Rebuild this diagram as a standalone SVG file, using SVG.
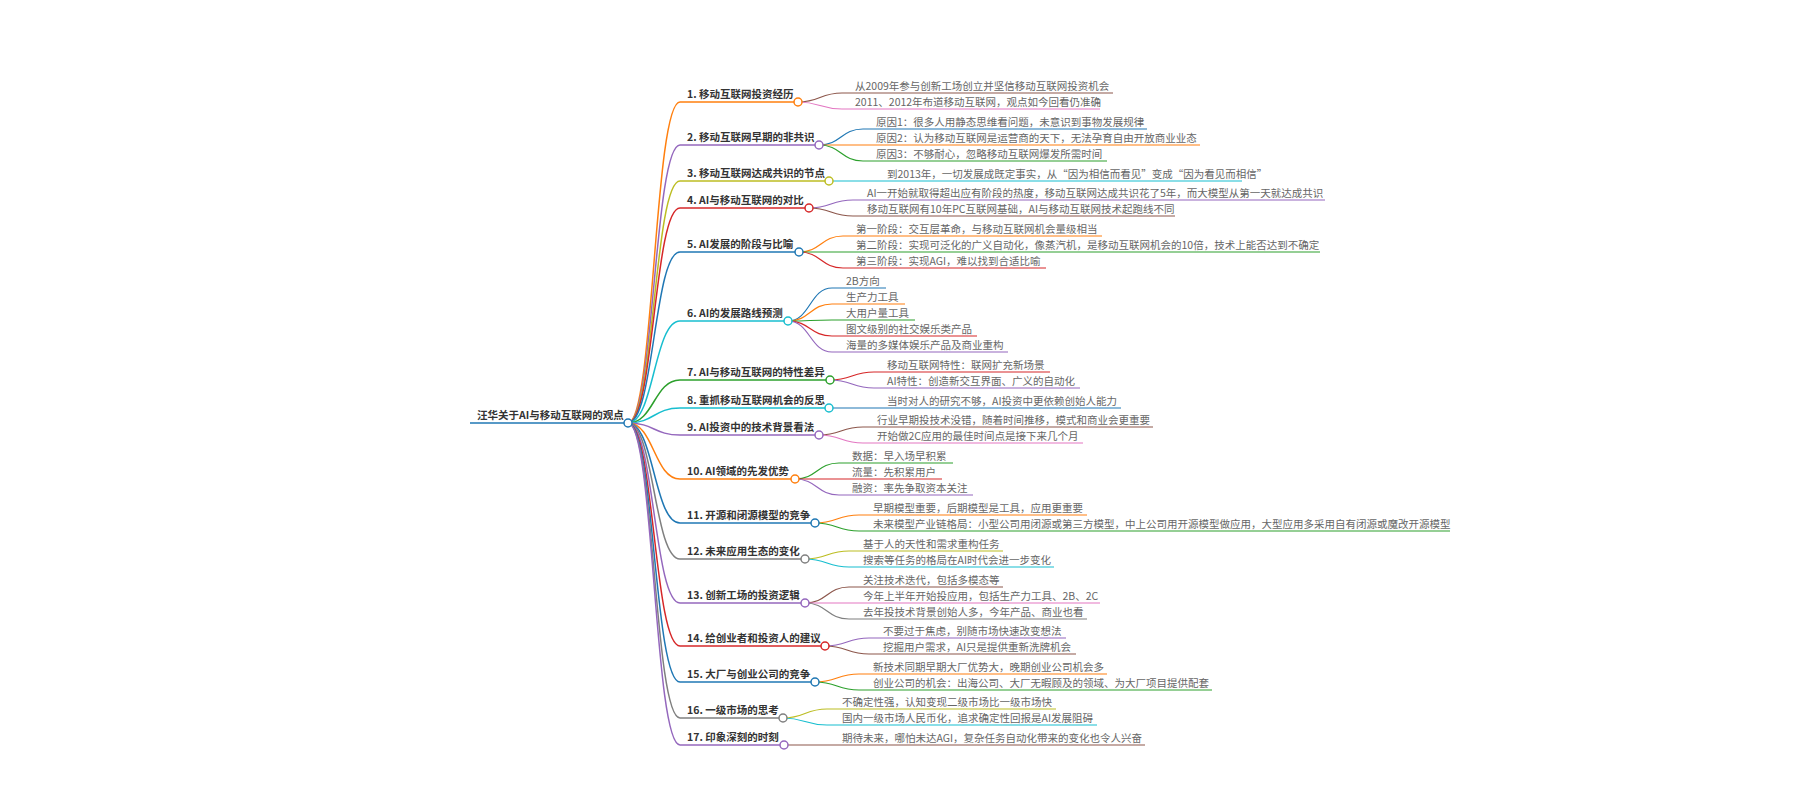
<svg xmlns="http://www.w3.org/2000/svg" width="1800" height="800" viewBox="0 0 1800 800">
<style>
text{font-family:"Noto Sans CJK SC","Noto Sans",sans-serif;font-size:10.5px}
.r,.b{font-weight:700;fill:#333}
.l{fill:#666}
path,line{fill:none}
.k1{stroke-width:1.5}
.k2{stroke-width:1.2}
circle{fill:#fff;stroke-width:1.5}
</style>
<rect width="1800" height="800" fill="#fff"/>
<g id="connectors">
<path class="k1" stroke="#ff7f0e" d="M628,423 C654,423 654,102 680,102"/>
<path class="k1" stroke="#9467bd" d="M628,423 C654,423 654,145 680,145"/>
<path class="k1" stroke="#bcbd22" d="M628,423 C654,423 654,181 680,181"/>
<path class="k1" stroke="#d62728" d="M628,423 C654,423 654,208 680,208"/>
<path class="k1" stroke="#1f77b4" d="M628,423 C654,423 654,252 680,252"/>
<path class="k1" stroke="#17becf" d="M628,423 C654,423 654,321 680,321"/>
<path class="k1" stroke="#2ca02c" d="M628,423 C654,423 654,380 680,380"/>
<path class="k1" stroke="#17becf" d="M628,423 C654,423 654,408 680,408"/>
<path class="k1" stroke="#9467bd" d="M628,423 C654,423 654,435 680,435"/>
<path class="k1" stroke="#ff7f0e" d="M628,423 C654,423 654,479 680,479"/>
<path class="k1" stroke="#1f77b4" d="M628,423 C654,423 654,523 680,523"/>
<path class="k1" stroke="#7f7f7f" d="M628,423 C654,423 654,559 680,559"/>
<path class="k1" stroke="#9467bd" d="M628,423 C654,423 654,603 680,603"/>
<path class="k1" stroke="#d62728" d="M628,423 C654,423 654,646 680,646"/>
<path class="k1" stroke="#1f77b4" d="M628,423 C654,423 654,682 680,682"/>
<path class="k1" stroke="#7f7f7f" d="M628,423 C654,423 654,718 680,718"/>
<path class="k1" stroke="#9467bd" d="M628,423 C654,423 654,745 680,745"/>
<!-- leaf links -->
<path class="k2" stroke="#8c564b" d="M798,102 C820,102 820,93 842,93"/>
<path class="k2" stroke="#e377c2" d="M798,102 C820,102 820,109 842,109"/>
<path class="k2" stroke="#1f77b4" d="M819,145 C841,145 841,129 863,129"/>
<path class="k2" stroke="#ff7f0e" d="M819,145 C841,145 841,145 863,145"/>
<path class="k2" stroke="#2ca02c" d="M819,145 C841,145 841,161 863,161"/>
<path class="k2" stroke="#17becf" d="M829,181 C851,181 851,181 873,181"/>
<path class="k2" stroke="#9467bd" d="M809,208 C831,208 831,200 853,200"/>
<path class="k2" stroke="#8c564b" d="M809,208 C831,208 831,216 853,216"/>
<path class="k2" stroke="#ff7f0e" d="M799,252 C821,252 821,236 843,236"/>
<path class="k2" stroke="#2ca02c" d="M799,252 C821,252 821,252 843,252"/>
<path class="k2" stroke="#d62728" d="M799,252 C821,252 821,268 843,268"/>
<path class="k2" stroke="#1f77b4" d="M788,321 C810,321 810,288 832,288"/>
<path class="k2" stroke="#ff7f0e" d="M788,321 C810,321 810,304 832,304"/>
<path class="k2" stroke="#2ca02c" d="M788,321 C810,321 810,320 832,320"/>
<path class="k2" stroke="#d62728" d="M788,321 C810,321 810,336 832,336"/>
<path class="k2" stroke="#9467bd" d="M788,321 C810,321 810,352 832,352"/>
<path class="k2" stroke="#d62728" d="M830,380 C852,380 852,372 874,372"/>
<path class="k2" stroke="#9467bd" d="M830,380 C852,380 852,388 874,388"/>
<path class="k2" stroke="#1f77b4" d="M829,408 C851,408 851,408 873,408"/>
<path class="k2" stroke="#8c564b" d="M819,435 C841,435 841,427 863,427"/>
<path class="k2" stroke="#e377c2" d="M819,435 C841,435 841,443 863,443"/>
<path class="k2" stroke="#2ca02c" d="M795,479 C817,479 817,463 839,463"/>
<path class="k2" stroke="#d62728" d="M795,479 C817,479 817,479 839,479"/>
<path class="k2" stroke="#9467bd" d="M795,479 C817,479 817,495 839,495"/>
<path class="k2" stroke="#ff7f0e" d="M815,523 C837,523 837,515 859,515"/>
<path class="k2" stroke="#2ca02c" d="M815,523 C837,523 837,531 859,531"/>
<path class="k2" stroke="#bcbd22" d="M805,559 C827,559 827,551 849,551"/>
<path class="k2" stroke="#17becf" d="M805,559 C827,559 827,567 849,567"/>
<path class="k2" stroke="#8c564b" d="M805,603 C827,603 827,587 849,587"/>
<path class="k2" stroke="#e377c2" d="M805,603 C827,603 827,603 849,603"/>
<path class="k2" stroke="#7f7f7f" d="M805,603 C827,603 827,619 849,619"/>
<path class="k2" stroke="#9467bd" d="M825,646 C847,646 847,638 869,638"/>
<path class="k2" stroke="#8c564b" d="M825,646 C847,646 847,654 869,654"/>
<path class="k2" stroke="#ff7f0e" d="M815,682 C837,682 837,674 859,674"/>
<path class="k2" stroke="#2ca02c" d="M815,682 C837,682 837,690 859,690"/>
<path class="k2" stroke="#bcbd22" d="M783,718 C805,718 805,709 827,709"/>
<path class="k2" stroke="#17becf" d="M783,718 C805,718 805,725 827,725"/>
<path class="k2" stroke="#8c564b" d="M784,745 C806,745 806,745 828,745"/>
</g>

<g id="root">
<line class="k1" stroke="#1f77b4" x1="470" y1="423" x2="628" y2="423"/>
<text class="r" x="477" y="419">汪华关于AI与移动互联网的观点</text>
<circle cx="628" cy="423" r="4" stroke="#1f77b4"/>
</g>

<g id="b1">
<line class="k1" stroke="#ff7f0e" x1="680" y1="102" x2="798" y2="102"/>
<text class="b" x="687" y="98">1. 移动互联网投资经历</text>
<circle cx="798" cy="102" r="4" stroke="#ff7f0e"/>
</g>
<g id="b1-1"><line class="k2" stroke="#8c564b" x1="842" y1="93" x2="1113" y2="93"/><text class="l" x="855" y="90">从2009年参与创新工场创立并坚信移动互联网投资机会</text></g>
<g id="b1-2"><line class="k2" stroke="#e377c2" x1="842" y1="109" x2="1100" y2="109"/><text class="l" x="855" y="106">2011、2012年布道移动互联网，观点如今回看仍准确</text></g>

<g id="b2">
<line class="k1" stroke="#9467bd" x1="680" y1="145" x2="819" y2="145"/>
<text class="b" x="687" y="141">2. 移动互联网早期的非共识</text>
<circle cx="819" cy="145" r="4" stroke="#9467bd"/>
</g>
<g id="b2-1"><line class="k2" stroke="#1f77b4" x1="863" y1="129" x2="1147" y2="129"/><text class="l" x="876" y="126">原因1：很多人用静态思维看问题，未意识到事物发展规律</text></g>
<g id="b2-2"><line class="k2" stroke="#ff7f0e" x1="863" y1="145" x2="1200" y2="145"/><text class="l" x="876" y="142">原因2：认为移动互联网是运营商的天下，无法孕育自由开放商业业态</text></g>
<g id="b2-3"><line class="k2" stroke="#2ca02c" x1="863" y1="161" x2="1107" y2="161"/><text class="l" x="876" y="158">原因3：不够耐心，忽略移动互联网爆发所需时间</text></g>

<g id="b3">
<line class="k1" stroke="#bcbd22" x1="680" y1="181" x2="829" y2="181"/>
<text class="b" x="687" y="177">3. 移动互联网达成共识的节点</text>
<circle cx="829" cy="181" r="4" stroke="#bcbd22"/>
</g>
<g id="b3-1"><line class="k2" stroke="#17becf" x1="873" y1="181" x2="1242" y2="181"/><text class="l" x="887" y="178">到2013年，一切发展成既定事实，从“因为相信而看见”变成“因为看见而相信”</text></g>

<g id="b4">
<line class="k1" stroke="#d62728" x1="680" y1="208" x2="809" y2="208"/>
<text class="b" x="687" y="204">4. AI与移动互联网的对比</text>
<circle cx="809" cy="208" r="4" stroke="#d62728"/>
</g>
<g id="b4-1"><line class="k2" stroke="#9467bd" x1="853" y1="200" x2="1325" y2="200"/><text class="l" x="867" y="197">AI一开始就取得超出应有阶段的热度，移动互联网达成共识花了5年，而大模型从第一天就达成共识</text></g>
<g id="b4-2"><line class="k2" stroke="#8c564b" x1="853" y1="216" x2="1175" y2="216"/><text class="l" x="867" y="213">移动互联网有10年PC互联网基础，AI与移动互联网技术起跑线不同</text></g>

<g id="b5">
<line class="k1" stroke="#1f77b4" x1="680" y1="252" x2="799" y2="252"/>
<text class="b" x="687" y="248">5. AI发展的阶段与比喻</text>
<circle cx="799" cy="252" r="4" stroke="#1f77b4"/>
</g>
<g id="b5-1"><line class="k2" stroke="#ff7f0e" x1="843" y1="236" x2="1102" y2="236"/><text class="l" x="856" y="233">第一阶段：交互层革命，与移动互联网机会量级相当</text></g>
<g id="b5-2"><line class="k2" stroke="#2ca02c" x1="843" y1="252" x2="1320" y2="252"/><text class="l" x="856" y="249">第二阶段：实现可泛化的广义自动化，像蒸汽机，是移动互联网机会的10倍，技术上能否达到不确定</text></g>
<g id="b5-3"><line class="k2" stroke="#d62728" x1="843" y1="268" x2="1046" y2="268"/><text class="l" x="856" y="265">第三阶段：实现AGI，难以找到合适比喻</text></g>

<g id="b6">
<line class="k1" stroke="#17becf" x1="680" y1="321" x2="788" y2="321"/>
<text class="b" x="687" y="317">6. AI的发展路线预测</text>
<circle cx="788" cy="321" r="4" stroke="#17becf"/>
</g>
<g id="b6-1"><line class="k2" stroke="#1f77b4" x1="832" y1="288" x2="886" y2="288"/><text class="l" x="846" y="285">2B方向</text></g>
<g id="b6-2"><line class="k2" stroke="#ff7f0e" x1="832" y1="304" x2="905" y2="304"/><text class="l" x="846" y="301">生产力工具</text></g>
<g id="b6-3"><line class="k2" stroke="#2ca02c" x1="832" y1="320" x2="915" y2="320"/><text class="l" x="846" y="317">大用户量工具</text></g>
<g id="b6-4"><line class="k2" stroke="#d62728" x1="832" y1="336" x2="977" y2="336"/><text class="l" x="846" y="333">图文级别的社交娱乐类产品</text></g>
<g id="b6-5"><line class="k2" stroke="#9467bd" x1="832" y1="352" x2="1008" y2="352"/><text class="l" x="846" y="349">海量的多媒体娱乐产品及商业重构</text></g>

<g id="b7">
<line class="k1" stroke="#2ca02c" x1="680" y1="380" x2="830" y2="380"/>
<text class="b" x="687" y="376">7. AI与移动互联网的特性差异</text>
<circle cx="830" cy="380" r="4" stroke="#2ca02c"/>
</g>
<g id="b7-1"><line class="k2" stroke="#d62728" x1="874" y1="372" x2="1050" y2="372"/><text class="l" x="887" y="369">移动互联网特性：联网扩充新场景</text></g>
<g id="b7-2"><line class="k2" stroke="#9467bd" x1="874" y1="388" x2="1080" y2="388"/><text class="l" x="887" y="385">AI特性：创造新交互界面、广义的自动化</text></g>

<g id="b8">
<line class="k1" stroke="#17becf" x1="680" y1="408" x2="829" y2="408"/>
<text class="b" x="687" y="404">8. 重抓移动互联网机会的反思</text>
<circle cx="829" cy="408" r="4" stroke="#17becf"/>
</g>
<g id="b8-1"><line class="k2" stroke="#1f77b4" x1="873" y1="408" x2="1121" y2="408"/><text class="l" x="887" y="405">当时对人的研究不够，AI投资中更依赖创始人能力</text></g>

<g id="b9">
<line class="k1" stroke="#9467bd" x1="680" y1="435" x2="819" y2="435"/>
<text class="b" x="687" y="431">9. AI投资中的技术背景看法</text>
<circle cx="819" cy="435" r="4" stroke="#9467bd"/>
</g>
<g id="b9-1"><line class="k2" stroke="#8c564b" x1="863" y1="427" x2="1153" y2="427"/><text class="l" x="877" y="424">行业早期投技术没错，随着时间推移，模式和商业会更重要</text></g>
<g id="b9-2"><line class="k2" stroke="#e377c2" x1="863" y1="443" x2="1083" y2="443"/><text class="l" x="877" y="440">开始做2C应用的最佳时间点是接下来几个月</text></g>

<g id="b10">
<line class="k1" stroke="#ff7f0e" x1="680" y1="479" x2="795" y2="479"/>
<text class="b" x="687" y="475">10. AI领域的先发优势</text>
<circle cx="795" cy="479" r="4" stroke="#ff7f0e"/>
</g>
<g id="b10-1"><line class="k2" stroke="#2ca02c" x1="839" y1="463" x2="953" y2="463"/><text class="l" x="852" y="460">数据：早入场早积累</text></g>
<g id="b10-2"><line class="k2" stroke="#d62728" x1="839" y1="479" x2="942" y2="479"/><text class="l" x="852" y="476">流量：先积累用户</text></g>
<g id="b10-3"><line class="k2" stroke="#9467bd" x1="839" y1="495" x2="973" y2="495"/><text class="l" x="852" y="492">融资：率先争取资本关注</text></g>

<g id="b11">
<line class="k1" stroke="#1f77b4" x1="680" y1="523" x2="815" y2="523"/>
<text class="b" x="687" y="519">11. 开源和闭源模型的竞争</text>
<circle cx="815" cy="523" r="4" stroke="#1f77b4"/>
</g>
<g id="b11-1"><line class="k2" stroke="#ff7f0e" x1="859" y1="515" x2="1087" y2="515"/><text class="l" x="873" y="512">早期模型重要，后期模型是工具，应用更重要</text></g>
<g id="b11-2"><line class="k2" stroke="#2ca02c" x1="859" y1="531" x2="1450" y2="531"/><text class="l" x="873" y="528">未来模型产业链格局：小型公司用闭源或第三方模型，中上公司用开源模型做应用，大型应用多采用自有闭源或魔改开源模型</text></g>

<g id="b12">
<line class="k1" stroke="#7f7f7f" x1="680" y1="559" x2="805" y2="559"/>
<text class="b" x="687" y="555">12. 未来应用生态的变化</text>
<circle cx="805" cy="559" r="4" stroke="#7f7f7f"/>
</g>
<g id="b12-1"><line class="k2" stroke="#bcbd22" x1="849" y1="551" x2="1003" y2="551"/><text class="l" x="863" y="548">基于人的天性和需求重构任务</text></g>
<g id="b12-2"><line class="k2" stroke="#17becf" x1="849" y1="567" x2="1054" y2="567"/><text class="l" x="863" y="564">搜索等任务的格局在AI时代会进一步变化</text></g>

<g id="b13">
<line class="k1" stroke="#9467bd" x1="680" y1="603" x2="805" y2="603"/>
<text class="b" x="687" y="599">13. 创新工场的投资逻辑</text>
<circle cx="805" cy="603" r="4" stroke="#9467bd"/>
</g>
<g id="b13-1"><line class="k2" stroke="#8c564b" x1="849" y1="587" x2="1003" y2="587"/><text class="l" x="863" y="584">关注技术迭代，包括多模态等</text></g>
<g id="b13-2"><line class="k2" stroke="#e377c2" x1="849" y1="603" x2="1100" y2="603"/><text class="l" x="863" y="600">今年上半年开始投应用，包括生产力工具、2B、2C</text></g>
<g id="b13-3"><line class="k2" stroke="#7f7f7f" x1="849" y1="619" x2="1087" y2="619"/><text class="l" x="863" y="616">去年投技术背景创始人多，今年产品、商业也看</text></g>

<g id="b14">
<line class="k1" stroke="#d62728" x1="680" y1="646" x2="825" y2="646"/>
<text class="b" x="687" y="642">14. 给创业者和投资人的建议</text>
<circle cx="825" cy="646" r="4" stroke="#d62728"/>
</g>
<g id="b14-1"><line class="k2" stroke="#9467bd" x1="869" y1="638" x2="1066" y2="638"/><text class="l" x="883" y="635">不要过于焦虑，别随市场快速改变想法</text></g>
<g id="b14-2"><line class="k2" stroke="#8c564b" x1="869" y1="654" x2="1076" y2="654"/><text class="l" x="883" y="651">挖掘用户需求，AI只是提供重新洗牌机会</text></g>

<g id="b15">
<line class="k1" stroke="#1f77b4" x1="680" y1="682" x2="815" y2="682"/>
<text class="b" x="687" y="678">15. 大厂与创业公司的竞争</text>
<circle cx="815" cy="682" r="4" stroke="#1f77b4"/>
</g>
<g id="b15-1"><line class="k2" stroke="#ff7f0e" x1="859" y1="674" x2="1107" y2="674"/><text class="l" x="873" y="671">新技术同期早期大厂优势大，晚期创业公司机会多</text></g>
<g id="b15-2"><line class="k2" stroke="#2ca02c" x1="859" y1="690" x2="1212" y2="690"/><text class="l" x="873" y="687">创业公司的机会：出海公司、大厂无暇顾及的领域、为大厂项目提供配套</text></g>

<g id="b16">
<line class="k1" stroke="#7f7f7f" x1="680" y1="718" x2="783" y2="718"/>
<text class="b" x="687" y="714">16. 一级市场的思考</text>
<circle cx="783" cy="718" r="4" stroke="#7f7f7f"/>
</g>
<g id="b16-1"><line class="k2" stroke="#bcbd22" x1="827" y1="709" x2="1056" y2="709"/><text class="l" x="842" y="706">不确定性强，认知变现二级市场比一级市场快</text></g>
<g id="b16-2"><line class="k2" stroke="#17becf" x1="827" y1="725" x2="1097" y2="725"/><text class="l" x="842" y="722">国内一级市场人民币化，追求确定性回报是AI发展阻碍</text></g>

<g id="b17">
<line class="k1" stroke="#9467bd" x1="680" y1="745" x2="784" y2="745"/>
<text class="b" x="687" y="741">17. 印象深刻的时刻</text>
<circle cx="784" cy="745" r="4" stroke="#9467bd"/>
</g>
<g id="b17-1"><line class="k2" stroke="#8c564b" x1="828" y1="745" x2="1145" y2="745"/><text class="l" x="842" y="742">期待未来，哪怕未达AGI，复杂任务自动化带来的变化也令人兴奋</text></g>
</svg>
